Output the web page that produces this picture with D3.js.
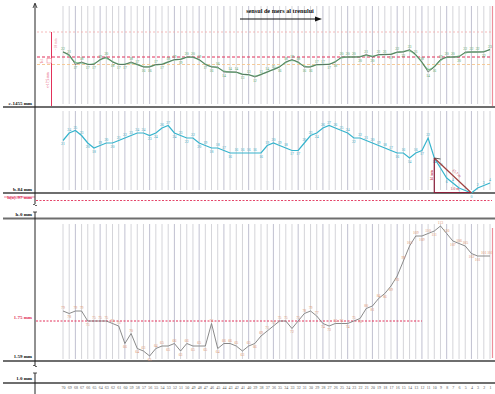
<!DOCTYPE html>
<html><head><meta charset="utf-8">
<script src="https://cdn.jsdelivr.net/npm/d3@7"></script>
<style>
html,body{margin:0;padding:0;background:#fff;}
svg{display:block;font-family:"Liberation Serif",serif;}
</style>
</head><body>
<svg id="c" width="495" height="394"></svg>
<script>
// Measuring points along the track (numbered against the travel direction)
const stations = ["70","69","68","67","66","65","64","63","62","61","60","59","58","57","56","55","54","53","52","51",
  "50","49","48","47","46","45","44","43","42","41","40","39","38","37","36","35","34","33","32","31",
  "30","29","28","27","26","25","24","23","22","21","20","19","18","17","16","15","14","13","12","11",
  "10","9","8","7","6","5","4","3","2","1"];

// Gauge deviation (mm above c-1455 mm)
const gaugeValues = [22,21,17,18,17,17,19,20,18,17, 17,18,17,16,16,17,17,18,19,19,
  20,20,19,17,16,16,14,14,14,13, 13,12,13,14,15,16,18,19,18,16,
  16,17,17,17,18,20,20,20,20,21, 20,21,21,21,22,22,23,21,18,14,
  16,19,20,20,20,22,22,22,22,23];

// Alignment / versine (mm above b-84 mm)
const alignValues = [21,24,25,23,20,18,19,20,20,21, 22,23,24,24,23,24,26,27,24,23,
  22,22,20,19,18,18,17,16,16,16, 16,16,16,19,20,19,18,17,17,20,
  23,24,26,27,26,25,24,22,22,21, 20,19,18,17,16,16,14,16,17,22,
  14,10,6,4,2,1,0,2,3,4];

// Cross level (mm)
const levelValues = [79,78,79,79,75,75,75,75,74,73, 66,70,64,63,61,64,65,65,66,63,
  66,65,65,65,74,64,66,66,65,63, 65,66,69,71,73,75,75,72,75,78,
  79,77,74,73,74,74,74,75,76,80, 81,84,86,89,93,99,105,109,109,110,
  111,113,110,107,106,105,102,101,101,101];

const gaugeRefs = [30, 20, 17];
const alignRef = -3;
const levelRef = 75;
const ramp = {from: 60, to: 66, height: 14};

const svg = d3.select("#c");
const N = stations.length;
const idx = d3.range(N);

const x = d3.scalePoint().domain(idx).range([63, 490]);
const yTop = d3.scaleLinear().domain([0, 40]).range([107, 7]);
const yMid = d3.scaleLinear().domain([0, 30]).range([193, 118]);
const yBot = d3.scaleLinear().domain([59, 116]).range([361, 218.5]);

// vertical grid lines in each band
const bands = [[6, 104], [111, 190], [224, 359]];
bands.forEach(([a, b]) => {
  svg.append("g").selectAll("line").data(idx).join("line")
    .attr("x1", i => x(i)).attr("x2", i => x(i))
    .attr("y1", a).attr("y2", b)
    .attr("stroke", i => i % 4 === 2 ? "#b0b0c4" : "#c9c9cf")
    .attr("stroke-width", 0.8);
});

// right-hand limit marks
svg.append("line").attr("x1", 492.5).attr("x2", 492.5).attr("y1", 6).attr("y2", 106)
  .attr("stroke", "#ee8f9c").attr("stroke-width", 1.2);
svg.append("line").attr("x1", 492.5).attr("x2", 492.5).attr("y1", 228).attr("y2", 358)
  .attr("stroke", "#ee8f9c").attr("stroke-width", 1.2);

// gauge reference lines
const refStyle = [
  {c: "#f2a9a9", d: "2,2", w: 0.8},
  {c: "#e2315a", d: "3,2", w: 1},
  {c: "#f4c58e", d: "3,2", w: 0.9}
];
gaugeRefs.forEach((v, k) => {
  svg.append("line").attr("x1", 37).attr("x2", 492)
    .attr("y1", yTop(v)).attr("y2", yTop(v))
    .attr("stroke", refStyle[k].c).attr("stroke-dasharray", refStyle[k].d)
    .attr("stroke-width", refStyle[k].w);
});
// tolerance bracket at the left of the gauge band
svg.append("line").attr("x1", 51.5).attr("x2", 51.5).attr("y1", yTop(gaugeRefs[0])).attr("y2", yTop(0))
  .attr("stroke", "#e2315a").attr("stroke-width", 1);
svg.append("rect").attr("x", 47).attr("y", yTop(gaugeRefs[1]) + 1.5).attr("width", 4.5).attr("height", yTop(gaugeRefs[2]) - yTop(gaugeRefs[1]) - 3)
  .attr("fill", "#fff").attr("stroke", "#f08a9a").attr("stroke-width", 0.6);
const vText = (tx, ty, s, col, fs) => svg.append("text")
  .attr("transform", `translate(${tx},${ty}) rotate(-90)`)
  .attr("text-anchor", "middle").attr("font-size", fs).attr("fill", col).text(s);
vText(57, (yTop(gaugeRefs[0]) + yTop(gaugeRefs[1])) / 2, "+10 mm", "#ea7a8a", 3.6);
vText(43, (yTop(gaugeRefs[1]) + yTop(gaugeRefs[2])) / 2, "Tol.", "#ea7a8a", 3.4);
vText(49, 80, "c-17,5 mm", "#e2315a", 3.6);

// middle and bottom reference lines
svg.append("line").attr("x1", 36).attr("x2", 492).attr("y1", yMid(alignRef)).attr("y2", yMid(alignRef))
  .attr("stroke", "#e2315a").attr("stroke-dasharray", "2,1.5").attr("stroke-width", 0.9);
svg.append("line").attr("x1", 36).attr("x2", x(58)).attr("y1", yBot(levelRef)).attr("y2", yBot(levelRef))
  .attr("stroke", "#e2315a").attr("stroke-dasharray", "2,1.5").attr("stroke-width", 1);

// band base lines
[yTop(0), yMid(0), yBot(116), yBot(59), 383].forEach(yy => {
  svg.append("line").attr("x1", 3).attr("x2", 495).attr("y1", yy).attr("y2", yy)
    .attr("stroke", "#6e6e6e").attr("stroke-width", 2);
});
svg.append("line").attr("x1", 4).attr("x2", 35).attr("y1", 197).attr("y2", 197)
  .attr("stroke", "#e2315a").attr("stroke-width", 0.6);

// vertical axis with breaks
[[4, 204], [212, 366], [373, 394]].forEach(([a, b]) => {
  svg.append("line").attr("x1", 35).attr("x2", 35).attr("y1", a).attr("y2", b)
    .attr("stroke", "#222").attr("stroke-width", 1);
});
svg.append("path").attr("d", "M33,8 L35,3 L37,8").attr("fill", "none").attr("stroke", "#222").attr("stroke-width", 0.8);
[212, 373].forEach(yy => svg.append("line").attr("x1", 33).attr("x2", 37).attr("y1", yy).attr("y2", yy).attr("stroke", "#222").attr("stroke-width", 0.8));
svg.append("path").attr("d", "M33,366 q1,-2 2,0 t2,0").attr("fill", "none").attr("stroke", "#222").attr("stroke-width", 0.7);
svg.append("path").attr("d", "M33,205 q1,-2 2,0 t2,0").attr("fill", "none").attr("stroke", "#222").attr("stroke-width", 0.7);

// left labels
const leftLabels = [
  {t: "c-1455 mm", y: yTop(0) - 2.5, c: "#111"},
  {t: "b-84 mm", y: yMid(0) - 2.5, c: "#111"},
  {t: "h(o)-97 mm", y: yMid(alignRef) - 1.5, c: "#e2315a"},
  {t: "h-0 mm", y: yBot(116) - 3, c: "#111"},
  {t: "l-75 mm", y: yBot(levelRef) - 2, c: "#e2315a"},
  {t: "l-59 mm", y: yBot(59) - 3, c: "#111"},
  {t: "l-0 mm", y: 380, c: "#111"}
];
svg.append("g").selectAll("text").data(leftLabels).join("text")
  .attr("x", 32).attr("y", d => d.y).attr("text-anchor", "end")
  .attr("font-size", 5).attr("font-weight", "bold").attr("fill", d => d.c).text(d => d.t);

// direction of travel
svg.append("text").attr("x", 280).attr("y", 13).attr("text-anchor", "middle")
  .attr("font-size", 6.2).attr("font-weight", "bold").attr("fill", "#111").text("sensul de mers al trenului");
svg.append("line").attr("x1", 240).attr("x2", 317).attr("y1", 19).attr("y2", 19).attr("stroke", "#111").attr("stroke-width", 1.2);
svg.append("path").attr("d", "M315,16.5 L322,19 L315,21.5 Z").attr("fill", "#111");

// data series
function series(values, y, opts) {
  const g = svg.append("g");
  if (opts.under) {
    g.append("path").datum(values)
      .attr("d", d3.line().x((d, i) => x(i)).y(d => y(d)).curve(d3.curveBasis))
      .attr("fill", "none").attr("stroke", opts.under).attr("stroke-width", 1.4);
  }
  g.append("path").datum(values)
    .attr("d", d3.line().x((d, i) => x(i)).y(d => y(d)))
    .attr("fill", "none").attr("stroke", opts.line).attr("stroke-width", opts.w);
  g.selectAll("text").data(values).join("text")
    .attr("x", (d, i) => x(i))
    .attr("y", (d, i) => {
      const p = values[Math.max(0, i - 1)], n = values[Math.min(N - 1, i + 1)];
      return d >= (p + n) / 2 ? y(d) - 2 : y(d) + 4.8;
    })
    .attr("text-anchor", "middle").attr("font-size", 3.8).attr("fill", opts.label).text(d => d);
}
series(gaugeValues, yTop, {line: "#4b5a4e", under: "#7cc38e", w: 0.7, label: "#4fa565"});
series(alignValues, yMid, {line: "#36b4cd", w: 1.2, label: "#34a9c3"});
series(levelValues, yBot, {line: "#7d7d7d", w: 0.9, label: "#e0946e"});

// ramp triangle on the alignment band
const rx0 = x(ramp.from), rx1 = x(ramp.to), ry0 = yMid(ramp.height), ry1 = yMid(0);
svg.append("line").attr("x1", rx0).attr("x2", rx0).attr("y1", ry0).attr("y2", ry1).attr("stroke", "#8a1f3a").attr("stroke-width", 1.2);
svg.append("line").attr("x1", rx0).attr("x2", rx1).attr("y1", ry1 - 0.5).attr("y2", ry1 - 0.5).attr("stroke", "#8a1f3a").attr("stroke-width", 1);
svg.append("line").attr("x1", rx0).attr("x2", rx1).attr("y1", ry0).attr("y2", ry1).attr("stroke", "#a0413f").attr("stroke-width", 1.2);
svg.append("line").attr("x1", rx0).attr("x2", x(ramp.from + 1)).attr("y1", ry0).attr("y2", ry0 + 1).attr("stroke", "#333").attr("stroke-width", 0.8);
vText(rx0 - 1.5, (ry0 + ry1) / 2, ramp.height + " mm", "#c2243e", 3.8);
const ang = Math.atan2(ry1 - ry0, rx1 - rx0) * 180 / Math.PI;
svg.append("text").attr("transform", `translate(${(rx0 + rx1) / 2 + 3},${(ry0 + ry1) / 2 - 1.5}) rotate(${ang})`)
  .attr("text-anchor", "middle").attr("font-size", 3.8).attr("fill", "#c2243e").text("15.7 m");
svg.append("text").attr("x", (rx0 + rx1) / 2 + 2).attr("y", ry1 - 3).attr("text-anchor", "middle")
  .attr("font-size", 3.8).attr("fill", "#c2243e").text("1.0 m");

// station numbers
const ax = svg.append("g").attr("transform", "translate(0,386)")
  .call(d3.axisBottom(x).tickSize(0).tickPadding(0).tickFormat(i => stations[i]));
ax.select(".domain").remove();
ax.selectAll("text").attr("font-size", 4).attr("fill", "#555").attr("font-family", "Liberation Serif, serif");
</script>
</body></html>
